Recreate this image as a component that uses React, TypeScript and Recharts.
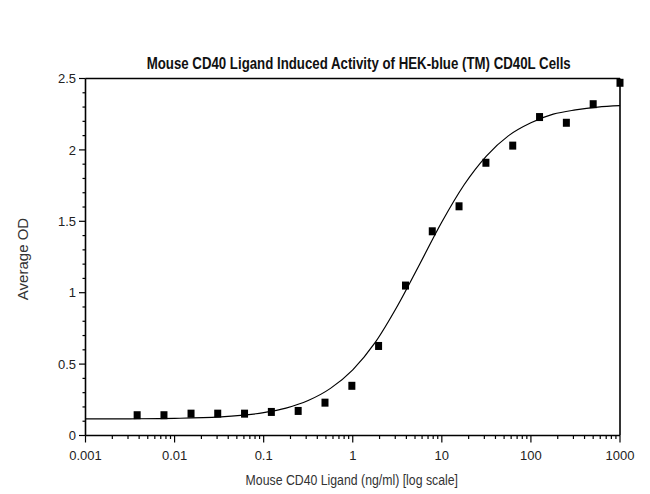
import React from 'react';
import { ComposedChart, XAxis, YAxis, Line, Scatter, ReferenceLine } from 'recharts';

// Measured points (concentration ng/ml, average OD)
const concentrations = [0.0038, 0.0076, 0.0153, 0.0305, 0.061, 0.122, 0.244, 0.488, 0.977, 1.95, 3.91, 7.81, 15.6, 31.25, 62.5, 125, 250, 500, 1000];
const averageOD = [0.142, 0.142, 0.153, 0.153, 0.153, 0.165, 0.172, 0.23, 0.348, 0.627, 1.05, 1.43, 1.605, 1.91, 2.03, 2.23, 2.19, 2.32, 2.47];

// Fitted curve
const curveX = [0.001, 0.0032, 0.01, 0.032, 0.1, 0.178, 0.316, 0.562, 1, 1.78, 3.16, 5.62, 10, 17.8, 31.6, 56.2, 100, 178, 316, 562, 1000];
const curveY = [0.116, 0.117, 0.12, 0.13, 0.16, 0.192, 0.245, 0.33, 0.46, 0.65, 0.905, 1.198, 1.495, 1.756, 1.957, 2.1, 2.19, 2.25, 2.28, 2.3, 2.31];

const xMajorTicks = [0.001, 0.01, 0.1, 1, 10, 100, 1000];
const xTickLabels = ['0.001', '0.01', '0.1', '1', '10', '100', '1000'];
const xMinorMultipliers = [2, 3, 4, 5, 6, 7, 8, 9];
const yMajorTicks = [0, 0.5, 1, 1.5, 2, 2.5];
const yTickLabels = ['0', '0.5', '1', '1.5', '2', '2.5'];
const yMinorTicks = [0.1, 0.2, 0.3, 0.4, 0.6, 0.7, 0.8, 0.9, 1.1, 1.2, 1.3, 1.4, 1.6, 1.7, 1.8, 1.9, 2.1, 2.2, 2.3, 2.4];

const TITLE = 'Mouse CD40 Ligand Induced Activity of HEK-blue (TM) CD40L Cells';
const X_TITLE = 'Mouse CD40 Ligand (ng/ml) [log scale]';
const Y_TITLE = 'Average OD';

const pointData = concentrations.map((c, i) => ({ x: c, y: averageOD[i] }));
const curveData = curveX.map((c, i) => ({ x: c, y: curveY[i] }));

const xMinorTicks: number[] = [];
xMajorTicks.slice(0, -1).forEach((d) => xMinorMultipliers.forEach((m) => xMinorTicks.push(d * m)));
const xTicks = [...xMajorTicks, ...xMinorTicks];
const yTicks = [...yMajorTicks, ...yMinorTicks];

const FONT = "'Liberation Sans', Arial, sans-serif";

const XTick = (props: any) => {
  const { x, y, payload } = props;
  const idx = xMajorTicks.indexOf(payload.value);
  const major = idx >= 0;
  return (
    <g>
      <line x1={x} x2={x} y1={y} y2={y + (major ? 7 : 3.5)} stroke="#000" strokeWidth={1.2} />
      {major && (
        <text x={x} y={y + 24.5} textAnchor="middle" fontSize={13} fontFamily={FONT} fill="#222">
          {xTickLabels[idx]}
        </text>
      )}
    </g>
  );
};

const YTick = (props: any) => {
  const { x, y, payload } = props;
  const idx = yMajorTicks.indexOf(payload.value);
  const major = idx >= 0;
  return (
    <g>
      <line x1={x - (major ? 6.5 : 3)} x2={x} y1={y} y2={y} stroke="#000" strokeWidth={1.2} />
      {major && (
        <text x={x - 9.5} y={y + 4.7} textAnchor="end" fontSize={13} fontFamily={FONT} fill="#222">
          {yTickLabels[idx]}
        </text>
      )}
    </g>
  );
};

const Square = (props: any) => {
  const { cx, cy } = props;
  return <rect x={cx - 3.5} y={cy - 4} width={7} height={8} fill="#000" />;
};

export default function App() {
  return (
    <div style={{ position: 'absolute', left: 0, top: 0, width: 650, height: 494, background: '#fff' }}>
      <ComposedChart width={650} height={494} margin={{ top: 78.5, right: 30, bottom: 28.5, left: 55.5 }}>
        <XAxis
          dataKey="x"
          type="number"
          scale="log"
          domain={[0.001, 1000]}
          ticks={xTicks}
          interval={0}
          tick={<XTick />}
          tickLine={false}
          tickSize={0}
          tickMargin={0}
          height={30}
          axisLine={{ stroke: '#000', strokeWidth: 1.6 }}
        />
        <YAxis
          dataKey="y"
          type="number"
          domain={[0, 2.5]}
          ticks={yTicks}
          interval={0}
          tick={<YTick />}
          tickLine={false}
          tickSize={0}
          tickMargin={0}
          width={30}
          axisLine={{ stroke: '#000', strokeWidth: 1.6 }}
        />
        <ReferenceLine y={2.5} stroke="#000" strokeWidth={1.6} />
        <ReferenceLine x={1000} stroke="#000" strokeWidth={1.6} />
        <Line
          data={curveData}
          dataKey="y"
          type="monotone"
          dot={false}
          activeDot={false}
          stroke="#000"
          strokeWidth={1.2}
          isAnimationActive={false}
        />
        <Scatter data={pointData} dataKey="y" fill="#000" shape={<Square />} isAnimationActive={false} />
      </ComposedChart>
      <svg width={650} height={494} style={{ position: 'absolute', left: 0, top: 0, pointerEvents: 'none' }}>
        <text transform="translate(358.7 68.5) scale(0.78 1)" textAnchor="middle" fontSize={17} fontWeight="bold" fontFamily={FONT} fill="#111">
          {TITLE}
        </text>
        <text transform="translate(351.8 485) scale(0.82 1)" textAnchor="middle" fontSize={15} fontFamily={FONT} fill="#333">
          {X_TITLE}
        </text>
        <text x={28} y={259} transform="rotate(-90 28 259)" textAnchor="middle" fontSize={15} fontFamily={FONT} fill="#333">
          {Y_TITLE}
        </text>
      </svg>
    </div>
  );
}
